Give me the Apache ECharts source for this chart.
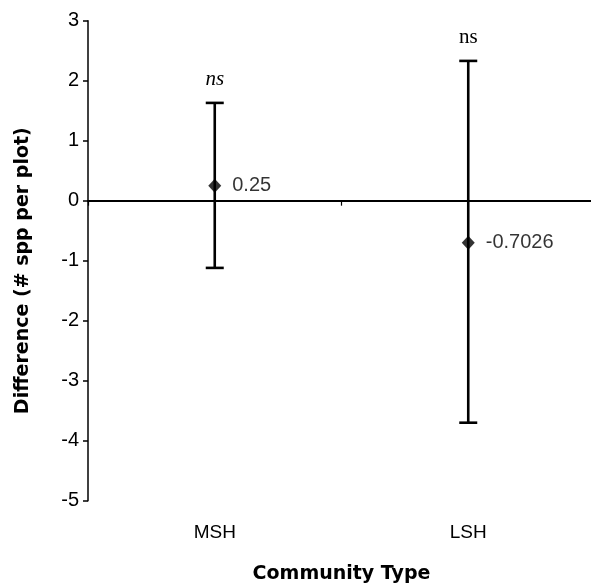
<!DOCTYPE html>
<html>
<head>
<meta charset="utf-8">
<script src="https://cdn.jsdelivr.net/npm/echarts@6/dist/echarts.min.js"></script>
<style>
  html, body { margin: 0; padding: 0; background: #fff; }
  #chart { width: 591px; height: 587px; }
</style>
</head>
<body>
<div id="chart"></div>
<script>
// Community types on the x axis
var categories = ['MSH', 'LSH'];
// Mean difference in species per plot
var meanDiff = [0.25, -0.7026];
// Confidence interval bounds
var ciLow = [-1.12, -3.70];
var ciHigh = [1.63, 2.33];
// Significance notes above each interval
var significance = ['ns', 'ns'];
// Y axis range and step
var yMin = -5, yMax = 3, yStep = 1;

var sansFont = '"Liberation Sans", Arial, sans-serif';
var titleFont = '"DejaVu Sans", "Liberation Sans", sans-serif';
var serifFont = '"Liberation Serif", "Times New Roman", serif';
var noteItalic = [true, false];

var chart = echarts.init(document.getElementById('chart'), null, { renderer: 'canvas' });

var intervalData = categories.map(function (c, i) {
  return [i, ciLow[i], ciHigh[i], i];
});

chart.setOption({
  animation: false,
  backgroundColor: '#ffffff',
  // plot area runs slightly past the right edge of the canvas
  grid: { left: 88, width: 507, top: 20.7, height: 480, containLabel: false, outerBoundsMode: 'none' },
  xAxis: [
    {
      // Zero reference line with category separators
      type: 'category',
      data: categories,
      boundaryGap: true,
      position: 'bottom',
      axisLine: { show: true, onZero: true, lineStyle: { color: '#000', width: 2 } },
      axisTick: { show: true, inside: false, length: 5, lineStyle: { color: '#000', width: 1.2 } },
      axisLabel: { show: false },
      splitLine: { show: false }
    },
    {
      // Category labels along the bottom
      type: 'category',
      data: categories,
      boundaryGap: true,
      position: 'bottom',
      axisLine: { show: false, onZero: false },
      axisTick: { show: false },
      axisLabel: { show: true, margin: 23, color: '#000', fontFamily: sansFont, fontSize: 19 },
      splitLine: { show: false },
      name: 'Community Type',
      nameLocation: 'middle',
      nameGap: 64,
      nameTextStyle: { color: '#000', fontFamily: titleFont, fontWeight: 'bold', fontSize: 19 }
    }
  ],
  yAxis: {
    type: 'value',
    min: yMin,
    max: yMax,
    interval: yStep,
    axisLine: { show: true, onZero: false, lineStyle: { color: '#000', width: 1.5 } },
    axisTick: { show: true, inside: false, length: 5, lineStyle: { color: '#000', width: 1.5 } },
    axisLabel: { margin: 9, color: '#000', fontFamily: sansFont, fontSize: 20 },
    splitLine: { show: false },
    name: 'Difference (# spp per plot)',
    nameLocation: 'middle',
    nameGap: 55,
    nameTextStyle: { color: '#000', fontFamily: titleFont, fontWeight: 'bold', fontSize: 19, padding: [0, 20, 0, 0] }
  },
  series: [
    {
      type: 'custom',
      xAxisIndex: 0,
      data: intervalData,
      encode: { x: 0, y: [1, 2] },
      renderItem: function (params, api) {
        var xi = api.value(0);
        var lo = api.coord([xi, api.value(1)]);
        var hi = api.coord([xi, api.value(2)]);
        var idx = api.value(3);
        var half = 9;
        var style = { stroke: '#000', lineWidth: 2.6 };
        return {
          type: 'group',
          children: [
            { type: 'line', shape: { x1: hi[0], y1: hi[1], x2: lo[0], y2: lo[1] }, style: style },
            { type: 'line', shape: { x1: hi[0] - half, y1: hi[1], x2: hi[0] + half, y2: hi[1] }, style: style },
            { type: 'line', shape: { x1: lo[0] - half, y1: lo[1], x2: lo[0] + half, y2: lo[1] }, style: style },
            {
              type: 'text',
              x: hi[0],
              y: hi[1] - 13,
              style: {
                text: significance[idx],
                fill: '#000',
                font: (noteItalic[idx] ? 'italic ' : '') + '21px ' + serifFont,
                align: 'center',
                verticalAlign: 'bottom'
              }
            }
          ]
        };
      },
      z: 3
    },
    {
      type: 'scatter',
      xAxisIndex: 0,
      data: meanDiff,
      symbol: 'diamond',
      symbolSize: [13, 14],
      itemStyle: { color: '#000' },
      label: {
        show: true,
        position: 'right',
        distance: 11,
        color: '#000',
        fontFamily: sansFont,
        fontSize: 20,
        formatter: function (p) { return String(p.value); }
      },
      z: 4
    }
  ]
});
</script>
</body>
</html>
